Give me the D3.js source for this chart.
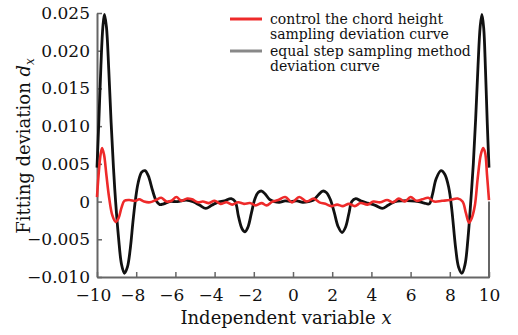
<!DOCTYPE html>
<html><head><meta charset="utf-8">
<script src="https://cdn.jsdelivr.net/npm/d3@7/dist/d3.min.js"></script>
<style>html,body{margin:0;padding:0;background:#fff}svg{display:block}</style>
</head><body>
<svg id="c" width="518" height="335"></svg>
<script>
// ---- data ----
const xTicks = [-10,-8,-6,-4,-2,0,2,4,6,8,10];
const yTicks = [-0.010,-0.005,0,0.005,0.010,0.015,0.020,0.025];
const legendLabels = [["control the chord height","sampling deviation curve"],["equal step sampling method","deviation curve"]];
const equalStepX = [-10,-9.9,-9.8,-9.7,-9.62,-9.52,-9.4,-9.28,-9.16,-9.05,-8.9,-8.75,-8.6,-8.45,-8.3,-8.17,-8.05,-7.9,-7.72,-7.55,-7.38,-7.18,-6.98,-6.8,-6.6,-6.3,-5.9,-5.45,-5.1,-4.75,-4.45,-4.15,-3.85,-3.5,-3.15,-2.95,-2.78,-2.6,-2.45,-2.3,-2.12,-1.95,-1.78,-1.6,-1.42,-1.2,-0.95,-0.7,-0.4,-0.1,0.2,0.5,0.8,1.05,1.3,1.52,1.7,1.9,2.1,2.3,2.5,2.68,2.85,3.0,3.2,3.45,3.8,4.2,4.55,4.85,5.2,5.6,6.0,6.4,6.7,6.95,7.12,7.3,7.55,7.75,7.95,8.1,8.3,8.45,8.62,8.78,8.93,9.07,9.2,9.32,9.44,9.55,9.64,9.73,9.82,9.91,10];
const equalStepY = [0.0045,0.011,0.018,0.0232,0.0248,0.0232,0.0175,0.0105,0.0045,0.0,-0.0048,-0.0083,-0.0095,-0.0087,-0.0062,-0.0028,0.0,0.0025,0.0039,0.0041,0.0034,0.0016,0.0001,-0.0004,-0.0003,0.0,0.0,0.0002,0.0,-0.0005,-0.0009,-0.0005,-0.0001,0.0001,0.0004,0.0,-0.0020,-0.0036,-0.0040,-0.0034,-0.0015,0.0003,0.0012,0.0014,0.0010,0.0003,0.0,-0.0001,0.0001,0.0,0.0001,-0.0001,0.0,0.0002,0.0009,0.0014,0.0012,0.0003,-0.0014,-0.0033,-0.0041,-0.0034,-0.0016,0.0,0.0004,0.0001,-0.0002,-0.0005,-0.0009,-0.0005,0.0,0.0001,0.0001,0.0,-0.0002,-0.0003,0.0010,0.0030,0.0041,0.0036,0.0018,-0.0010,-0.0062,-0.0087,-0.0095,-0.0083,-0.0048,0.0,0.0050,0.0110,0.0180,0.0232,0.0248,0.0230,0.0175,0.0105,0.0045];
const chordX = [-10,-9.92,-9.82,-9.74,-9.64,-9.52,-9.38,-9.22,-9.05,-8.9,-8.75,-8.6,-8.35,-8.05,-7.85,-7.6,-7.3,-7.0,-6.72,-6.45,-6.2,-5.95,-5.7,-5.4,-5.15,-4.85,-4.6,-4.3,-4.0,-3.7,-3.4,-3.1,-2.8,-2.5,-2.2,-1.9,-1.6,-1.35,-1.05,-0.75,-0.4,-0.05,0.32,0.7,1.05,1.35,1.65,1.95,2.25,2.55,2.85,3.15,3.45,3.8,4.1,4.45,4.8,5.1,5.4,5.7,6.0,6.3,6.6,6.9,7.2,7.6,8.0,8.4,8.65,8.82,8.98,9.12,9.28,9.42,9.58,9.7,9.8,9.9,10];
const chordY = [0.0006,0.0035,0.0062,0.0071,0.0062,0.0035,0.0005,-0.0018,-0.0027,-0.0022,-0.0008,0.0001,0.0002,0.0001,0.0003,0.0,-0.0001,0.0002,0.0005,0.0,0.0001,0.0006,0.0001,0.0004,0.0003,-0.0001,0.0,-0.0002,0.0001,-0.0003,-0.0001,-0.0004,-0.0001,-0.0003,-0.0002,-0.0005,-0.0002,-0.0005,0.0,0.0002,0.0006,-0.0001,0.0006,0.0,0.0004,-0.0001,-0.0003,-0.0006,-0.0004,-0.0006,-0.0003,-0.0006,-0.0002,-0.0004,0.0,-0.0001,0.0002,-0.0001,0.0004,0.0,0.0006,0.0001,0.0003,0.0005,0.0,0.0001,0.0002,0.0004,0.0,-0.0015,-0.0028,-0.0022,-0.0005,0.0030,0.0062,0.0071,0.0065,0.0035,0.0002];

// ---- layout ----
const svg = d3.select("#c");
const L = 97, R = 489, T = 13, B = 277;
const x = d3.scaleLinear().domain([-10,10]).range([L,R]);
const y = d3.scaleLinear().domain([-0.010,0.025]).range([B,T]);
const axisColor = "#666";
const tickFont = "DejaVu Serif";
const minus = s => s.replace("-", "\u2212");

// x axis
const gx = svg.append("g").attr("transform",`translate(0,${B})`)
  .call(d3.axisBottom(x).tickValues(xTicks).tickSizeInner(-5).tickSizeOuter(0).tickPadding(12)
    .tickFormat(d => minus(String(d))));
gx.select(".domain").attr("stroke",axisColor).attr("stroke-width",2);
gx.selectAll(".tick line").attr("stroke",axisColor).attr("stroke-width",1.5);
gx.selectAll(".tick text").attr("font-family",tickFont).attr("font-size",17).attr("fill","#111")
  .attr("dx", d => d < 0 ? -4 : 0);

// y axis
const gy = svg.append("g").attr("transform",`translate(${L},0)`)
  .call(d3.axisLeft(y).tickValues(yTicks).tickSizeInner(-5).tickSizeOuter(0).tickPadding(7)
    .tickFormat(d => d === 0 ? "0" : minus(d3.format(".3f")(d))));
gy.select(".domain").attr("stroke",axisColor).attr("stroke-width",2);
gy.selectAll(".tick line").attr("stroke",axisColor).attr("stroke-width",1.5);
gy.selectAll(".tick text").attr("font-family",tickFont).attr("font-size",17).attr("fill","#111");

// right border (lower part visible)
svg.append("line").attr("x1",R).attr("x2",R).attr("y1",y(0)).attr("y2",B+1)
  .attr("stroke",axisColor).attr("stroke-width",2);

// curves
const line = d3.line().x(d => x(d[0])).y(d => y(d[1])).curve(d3.curveCatmullRom.alpha(0.5));
const eqData = equalStepX.map((v,i) => [v, equalStepY[i]]);
const chData = chordX.map((v,i) => [v, chordY[i]]);
svg.append("path").datum(eqData).attr("d",line).attr("fill","none")
  .attr("stroke","#111").attr("stroke-width",2.8).attr("stroke-linejoin","round");
svg.append("path").datum(chData).attr("d",line).attr("fill","none")
  .attr("stroke","#ee2a2a").attr("stroke-width",2.6).attr("stroke-linejoin","round");

// legend
const legColors = ["#ee2a2a","#888"];
const legY = [19, 51];
legendLabels.forEach((lines,i) => {
  svg.append("line").attr("x1",230).attr("x2",262).attr("y1",legY[i]).attr("y2",legY[i])
    .attr("stroke",legColors[i]).attr("stroke-width",3);
  lines.forEach((t,j) => {
    svg.append("text").attr("x",270).attr("y",legY[i]+5+j*15)
      .attr("font-family",tickFont).attr("font-size",14).attr("fill","#111").text(t);
  });
});

// axis titles
const xt = svg.append("text").attr("x",286).attr("y",324).attr("text-anchor","middle")
  .attr("font-family",tickFont).attr("font-size",18).attr("fill","#111");
xt.append("tspan").text("Independent variable ");
xt.append("tspan").attr("font-style","italic").text("x");

const yt = svg.append("text").attr("transform","translate(30,146) rotate(-90)").attr("text-anchor","middle")
  .attr("font-family",tickFont).attr("font-size",18).attr("fill","#111");
yt.append("tspan").text("Fitting deviation ");
yt.append("tspan").attr("font-style","italic").text("d");
yt.append("tspan").attr("font-style","italic").attr("font-size",12).attr("dy",4).text("x");
</script>
</body></html>
